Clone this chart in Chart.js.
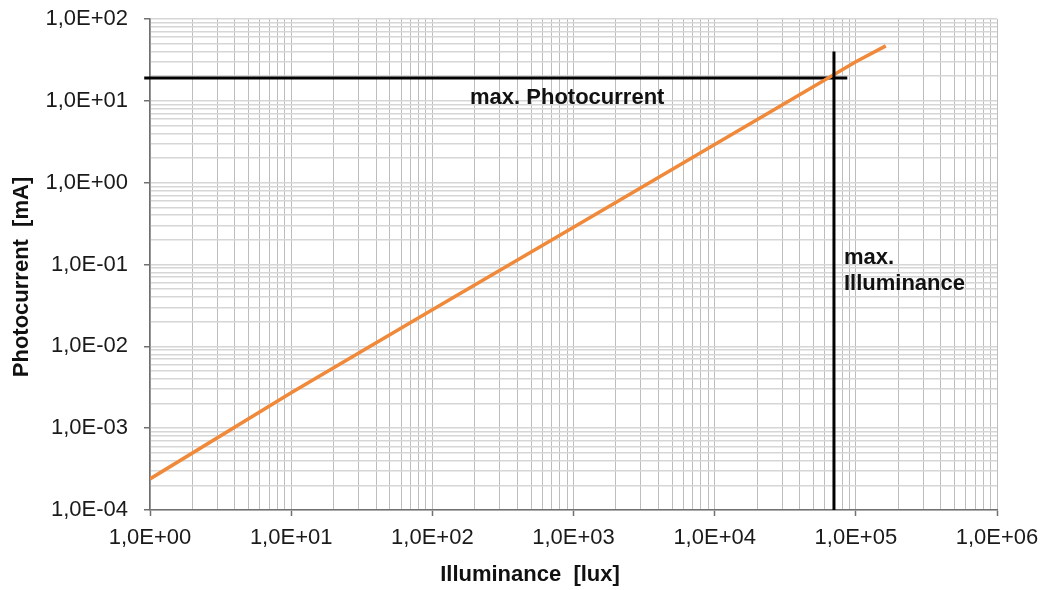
<!DOCTYPE html>
<html lang="en">
<head>
  <meta charset="UTF-8" />
  <title>Photocurrent vs Illuminance</title>
  <script src="https://cdn.jsdelivr.net/npm/chart.js"></script>
  <style>
    body { margin: 0; background: #fff; }
    #wrap { width: 1050px; height: 590px; }
  </style>
</head>
<body>

<div id="wrap"><canvas id="chart" width="1050" height="590"></canvas></div>

<script>
  // values (log-log)
  const illuminance = [1, 10, 100, 1000, 10000, 100000, 163000];        // lux
  const photocurrent = [2.4e-4, 2.7e-3, 2.8e-2, 0.285, 2.93, 30, 47];  // mA

  // limit lines
  const maxCurrentLine = { x: [0.91, 87000], y: [19, 19] };
  const maxIllumLine = { x: [70000, 70000], y: [1e-4, 40] };

  // axes
  const xDecades = [1, 10, 100, 1000, 10000, 100000, 1000000];
  const xTickLabels = ["1,0E+00", "1,0E+01", "1,0E+02", "1,0E+03", "1,0E+04", "1,0E+05", "1,0E+06"];
  const yDecades = [1e-4, 1e-3, 1e-2, 1e-1, 1, 10, 100];
  const yTickLabels = ["1,0E-04", "1,0E-03", "1,0E-02", "1,0E-01", "1,0E+00", "1,0E+01", "1,0E+02"];
  const minorSteps = [2, 3, 4, 5, 6, 7, 8, 9];

  // annotation texts, anchored at data coordinates
  const notes = [
    { text: "max. Photocurrent", x: 185, y: 9.2 },
    { text: "max.", x: 82400, y: 0.101 },
    { text: "Illuminance", x: 82400, y: 0.049 }
  ];

  const toPts = (xs, ys) => xs.map((x, i) => ({ x, y: ys[i] }));

  function allTicks(decades) {
    const out = [];
    decades.forEach((d, i) => {
      out.push({ value: d, major: true });
      if (i < decades.length - 1) minorSteps.forEach(m => out.push({ value: +(d * m).toPrecision(3), major: false }));
    });
    return out;
  }

  function labelFor(decades, labels) {
    return v => {
      const i = decades.findIndex(d => Math.abs(d - v) / d < 1e-6);
      return i >= 0 ? labels[i] : "";
    };
  }

  const isMajor = (decades, v) => decades.some(d => Math.abs(d - v) / d < 1e-6);

  const textPlugin = {
    id: "texts",
    afterDraw(chart) {
      const ctx = chart.ctx;
      const xs = chart.scales.x, ys = chart.scales.y;
      ctx.save();
      ctx.fillStyle = "#111";
      ctx.font = "bold 22px 'Liberation Sans', Arial, sans-serif";
      ctx.textBaseline = "alphabetic";
      ctx.textAlign = "left";
      notes.forEach(n => ctx.fillText(n.text, xs.getPixelForValue(n.x), ys.getPixelForValue(n.y)));

      // axis titles
      ctx.textAlign = "center";
      ctx.fillText("Illuminance  [lux]", 530, 581);
      ctx.translate(28, 277);
      ctx.rotate(-Math.PI / 2);
      ctx.fillText("Photocurrent  [mA]", 0, 0);
      ctx.restore();
    }
  };

  const tickFont = { family: "'Liberation Sans', Arial, sans-serif", size: 22 };

  new Chart(document.getElementById("chart"), {
    type: "line",
    data: {
      datasets: [
        {
          data: toPts(maxIllumLine.x, maxIllumLine.y),
          borderColor: "#000", borderWidth: 3, pointRadius: 0, order: 0
        },
        {
          data: toPts(illuminance, photocurrent),
          borderColor: "#F08A3A", borderWidth: 3.5, pointRadius: 0, order: 1
        },
        {
          data: toPts(maxCurrentLine.x, maxCurrentLine.y),
          borderColor: "#000", borderWidth: 3, pointRadius: 0, order: 2, clip: false
        }
      ]
    },
    options: {
      responsive: false,
      animation: false,
      layout: { padding: { top: 19, right: 53, left: 0, bottom: 0 } },
      plugins: { legend: { display: false }, tooltip: { enabled: false } },
      scales: {
        x: {
          type: "logarithmic",
          min: 1, max: 1000000,
          afterBuildTicks: s => { s.ticks = allTicks(xDecades); },
          afterFit: s => { s.height = 80; },
          ticks: {
            autoSkip: false, maxRotation: 0, padding: 9,
            color: "#1a1a1a", font: tickFont,
            callback: labelFor(xDecades, xTickLabels)
          },
          grid: {
            color: "#bdbdbd", lineWidth: 1, tickLength: 6, tickWidth: 1.5,
            tickColor: c => (c.tick && isMajor(xDecades, c.tick.value)) ? "#707070" : "rgba(0,0,0,0)"
          },
          border: { color: "#707070", width: 1.5 }
        },
        y: {
          type: "logarithmic",
          min: 1e-4, max: 100,
          afterBuildTicks: s => { s.ticks = allTicks(yDecades); },
          afterFit: s => { s.width = 150; s.paddingTop = 0; s.paddingBottom = 0; },
          ticks: {
            autoSkip: false, padding: 16,
            color: "#1a1a1a", font: tickFont,
            callback: labelFor(yDecades, yTickLabels)
          },
          grid: {
            color: "#d6d6d6", lineWidth: 1.5, tickLength: 6, tickWidth: 1.5,
            tickColor: c => (c.tick && isMajor(yDecades, c.tick.value)) ? "#707070" : "rgba(0,0,0,0)"
          },
          border: { color: "#707070", width: 1.5 }
        }
      }
    },
    plugins: [textPlugin]
  });
</script>

</body>
</html>
